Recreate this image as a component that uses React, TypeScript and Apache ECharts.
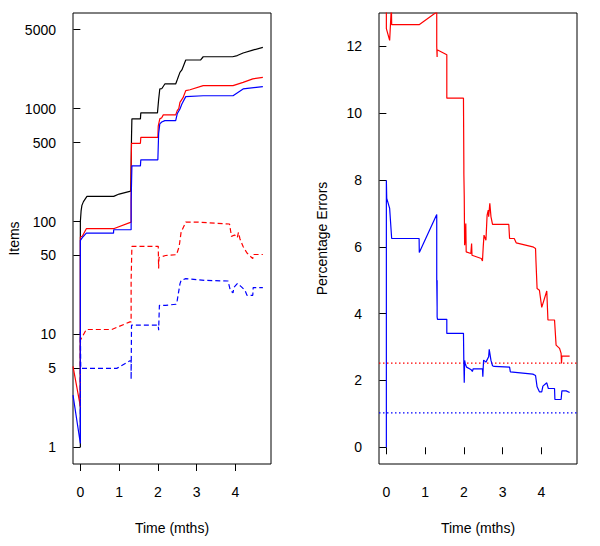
import React, { useEffect, useRef } from "react";
import * as echarts from "echarts";

// ---------- Left panel: Items (log scale) ----------
const totalT = [0, 0, 0.02, 0.04, 0.08, 0.17, 0.86, 1.0, 1.3, 1.31, 1.32, 1.33, 1.55, 1.56, 1.99, 2.02, 2.05, 2.1, 2.18, 2.46, 2.5, 2.57, 2.62, 2.72, 3.1, 3.17, 3.93, 4.05, 4.2, 4.45, 4.71];
const totalItems = [1, 100, 125, 139, 150, 167, 167, 175, 186, 300, 560, 811, 811, 917, 917, 1200, 1493, 1500, 1653, 1653, 1800, 2094, 2200, 2694, 2694, 2880, 2880, 2950, 3107, 3300, 3483];

const redT = [-0.19, 0, 0, 0.05, 0.154, 0.856, 1.31, 1.31, 1.32, 1.55, 1.56, 2.0, 2.01, 2.05, 2.1, 2.14, 2.46, 2.5, 2.54, 2.57, 2.65, 2.72, 2.83, 3.17, 3.94, 4.2, 4.45, 4.71];
const redItems = [5.2, 2.3, 72.8, 74, 86.3, 86.3, 98.8, 300, 493, 493, 557, 557, 700, 811, 830, 880, 880, 959, 1000, 1137, 1250, 1443, 1470, 1597, 1597, 1710, 1833, 1892];

const blueT = [-0.19, 0, 0, 0.05, 0.154, 0.856, 0.86, 1.31, 1.31, 1.33, 1.55, 1.56, 2.0, 2.02, 2.05, 2.1, 2.18, 2.46, 2.5, 2.57, 2.62, 2.72, 3.17, 3.94, 4.2, 4.71];
const blueItems = [2.9, 1.08, 68, 72, 78.9, 78.9, 84.5, 84.5, 150, 311, 311, 352, 352, 600, 733, 760, 783, 783, 900, 993, 1100, 1277, 1300, 1300, 1493, 1566];

const redDashT = [0, 0, 0.154, 0.81, 1.28, 1.31, 1.31, 1.33, 2.01, 2.02, 2.03, 2.06, 2.2, 2.48, 2.55, 2.6, 2.72, 3.0, 3.85, 3.9, 3.98, 4.05, 4.08, 4.12, 4.2, 4.3, 4.45, 4.46, 4.71];
const redDashItems = [2.3, 8.9, 11.05, 11.05, 12.9, 12.9, 30, 60.3, 60.3, 38.3, 48, 48.4, 50, 50.8, 60, 80.5, 98.8, 98.8, 95, 73.8, 76, 72, 80, 70, 60, 52.6, 46.9, 51, 51];

const blueDashT = [0, 0, 0.01, 0.94, 1.28, 1.31, 1.31, 1.32, 2.01, 2.02, 2.04, 2.2, 2.47, 2.5, 2.57, 2.6, 2.72, 3.2, 3.81, 3.87, 3.94, 3.96, 4.05, 4.15, 4.25, 4.3, 4.45, 4.46, 4.71];
const blueDashItems = [1.2, 10.5, 5, 5, 5.83, 5.83, 4, 12.06, 12.06, 10.9, 18.1, 18.1, 18.5, 20, 28, 30.1, 31.2, 30.1, 29.7, 24.6, 23.3, 26, 28.2, 26.5, 24.5, 22.2, 22.2, 26, 26];

const itemsTicks = [1, 5, 10, 50, 100, 500, 1000, 5000];

// ---------- Right panel: Percentage Errors ----------
const redErrT = [0, 0, 0.085, 0.13, 0.137, 0.845, 1.3, 1.3, 1.31, 1.31, 1.56, 1.56, 1.99, 2.0, 2.0, 2.01, 2.02, 2.04, 2.05, 2.06, 2.18, 2.2, 2.21, 2.45, 2.48, 2.5, 2.52, 2.57, 2.6, 2.63, 2.64, 2.67, 2.7, 2.74, 3.16, 3.18, 3.3, 3.35, 3.78, 3.85, 3.86, 3.89, 3.95, 4.01, 4.14, 4.17, 4.34, 4.38, 4.47, 4.51, 4.52, 4.53, 4.73];
const redErr = [13.2, 12.53, 12.18, 13.2, 12.65, 12.65, 13.03, 12.0, 11.68, 11.9, 11.75, 10.45, 10.45, 8.44, 8.2, 7.5, 6.05, 6.3, 6.7, 5.85, 5.8, 6.1, 5.75, 5.65, 5.58, 6.0, 6.35, 6.2, 6.95, 7.1, 6.9, 7.3, 6.9, 6.67, 6.67, 6.25, 6.25, 6.12, 6.0, 5.95, 5.6, 4.75, 4.7, 4.19, 4.68, 3.81, 3.81, 3.06, 2.96, 2.81, 2.51, 2.73, 2.73];

const blueErrT = [0, 0, 0.01, 0.085, 0.137, 0.845, 0.85, 1.3, 1.3, 1.31, 1.31, 1.31, 1.32, 1.56, 1.56, 1.99, 2.0, 2.01, 2.02, 2.035, 2.07, 2.18, 2.22, 2.24, 2.48, 2.49, 2.5, 2.51, 2.57, 2.64, 2.655, 2.7, 2.74, 2.78, 3.18, 3.2, 3.78, 3.85, 3.89, 3.95, 4.01, 4.04, 4.14, 4.18, 4.34, 4.35, 4.51, 4.53, 4.64, 4.73];
const blueErr = [0, 7.99, 7.45, 7.15, 6.25, 6.25, 5.83, 6.97, 5.0, 4.2, 5.0, 3.9, 3.83, 3.83, 3.41, 3.41, 2.51, 1.93, 2.6, 2.51, 2.4, 2.33, 2.27, 2.35, 2.35, 2.11, 2.4, 2.61, 2.55, 2.71, 2.93, 2.6, 2.44, 2.42, 2.4, 2.26, 2.19, 2.15, 1.81, 1.66, 1.66, 1.83, 1.93, 1.76, 1.76, 1.43, 1.43, 1.69, 1.69, 1.64];

const redRef = 2.52;
const blueRef = 1.03;
const errTicks = [0, 2, 4, 6, 8, 10, 12];
const timeTicks = [0, 1, 2, 3, 4];
const timeRange = [-0.19, 4.92];

const zip = (xs: number[], ys: number[]) => xs.map((x, i) => [x, ys[i]]);

const FONT = '"Liberation Sans", Arial, Helvetica, sans-serif';
const RED = "#ff0000";
const BLUE = "#0000ff";
const BLACK = "#000000";

export default function App() {
  const ref = useRef<HTMLDivElement>(null);

  useEffect(() => {
    if (!ref.current) return;
    const chart = echarts.init(ref.current, undefined, { renderer: "svg" });

    const labelStyle = { color: "#000", fontSize: 14, fontFamily: FONT };
    const tick = { show: true, length: 7, lineStyle: { color: "#000", width: 1 } };

    const xAxisBase = (gridIndex: number) => ({
      type: "value" as const,
      gridIndex,
      min: timeRange[0],
      max: timeRange[1],
      name: "Time (mths)",
      nameLocation: "middle" as const,
      nameGap: 57,
      nameTextStyle: { ...labelStyle },
      axisLine: { show: false },
      splitLine: { show: false },
      axisTick: { ...tick, customValues: timeTicks },
      axisLabel: { ...labelStyle, margin: 21, customValues: timeTicks },
    });

    const line = (
      name: string,
      xi: number,
      data: number[][],
      color: string,
      type: any
    ) => ({
      name,
      type: "line",
      xAxisIndex: xi,
      yAxisIndex: xi,
      data,
      showSymbol: false,
      symbol: "none",
      clip: true,
      color,
      lineStyle: { color, width: 1.2, type },
      itemStyle: { color },
      emphasis: { disabled: true },
    });

    const DASH = [5, 3];
    const DOT = [1.5, 2.5];

    chart.setOption({
      animation: false,
      backgroundColor: "#ffffff",
      grid: [
        { left: 73, top: 13, width: 198, height: 451, show: true, borderColor: "#000", borderWidth: 1, backgroundColor: "transparent" },
        { left: 379, top: 13, width: 198, height: 451, show: true, borderColor: "#000", borderWidth: 1, backgroundColor: "transparent" },
      ],
      xAxis: [xAxisBase(0), xAxisBase(1)],
      yAxis: [
        {
          type: "log",
          gridIndex: 0,
          min: 0.711,
          max: 7030,
          name: "Items",
          nameLocation: "middle",
          nameGap: 50,
          nameTextStyle: { ...labelStyle },
          axisLine: { show: false },
          splitLine: { show: false },
          axisTick: { ...tick, customValues: itemsTicks },
          axisLabel: { ...labelStyle, margin: 17, customValues: itemsTicks, formatter: (v: number) => String(Math.round(v)) },
        },
        {
          type: "value",
          gridIndex: 1,
          min: -0.5,
          max: 13,
          name: "Percentage Errors",
          nameLocation: "middle",
          nameGap: 50,
          nameTextStyle: { ...labelStyle },
          axisLine: { show: false },
          splitLine: { show: false },
          axisTick: { ...tick, customValues: errTicks },
          axisLabel: { ...labelStyle, margin: 17, customValues: errTicks },
        },
      ],
      series: [
        line("Total items", 0, zip(totalT, totalItems), BLACK, "solid"),
        line("Red items", 0, zip(redT, redItems), RED, "solid"),
        line("Blue items", 0, zip(blueT, blueItems), BLUE, "solid"),
        line("Red errors (items)", 0, zip(redDashT, redDashItems), RED, DASH),
        line("Blue errors (items)", 0, zip(blueDashT, blueDashItems), BLUE, DASH),
        line("Red reference", 1, zip(timeRange, [redRef, redRef]), RED, DOT),
        line("Blue reference", 1, zip(timeRange, [blueRef, blueRef]), BLUE, DOT),
        line("Red % errors", 1, zip(redErrT, redErr), RED, "solid"),
        line("Blue % errors", 1, zip(blueErrT, blueErr), BLUE, "solid"),
      ],
    });

    return () => chart.dispose();
  }, []);

  return (
    <div
      ref={ref}
      style={{ position: "fixed", left: 0, top: 0, width: 600, height: 546, background: "#fff" }}
    />
  );
}
